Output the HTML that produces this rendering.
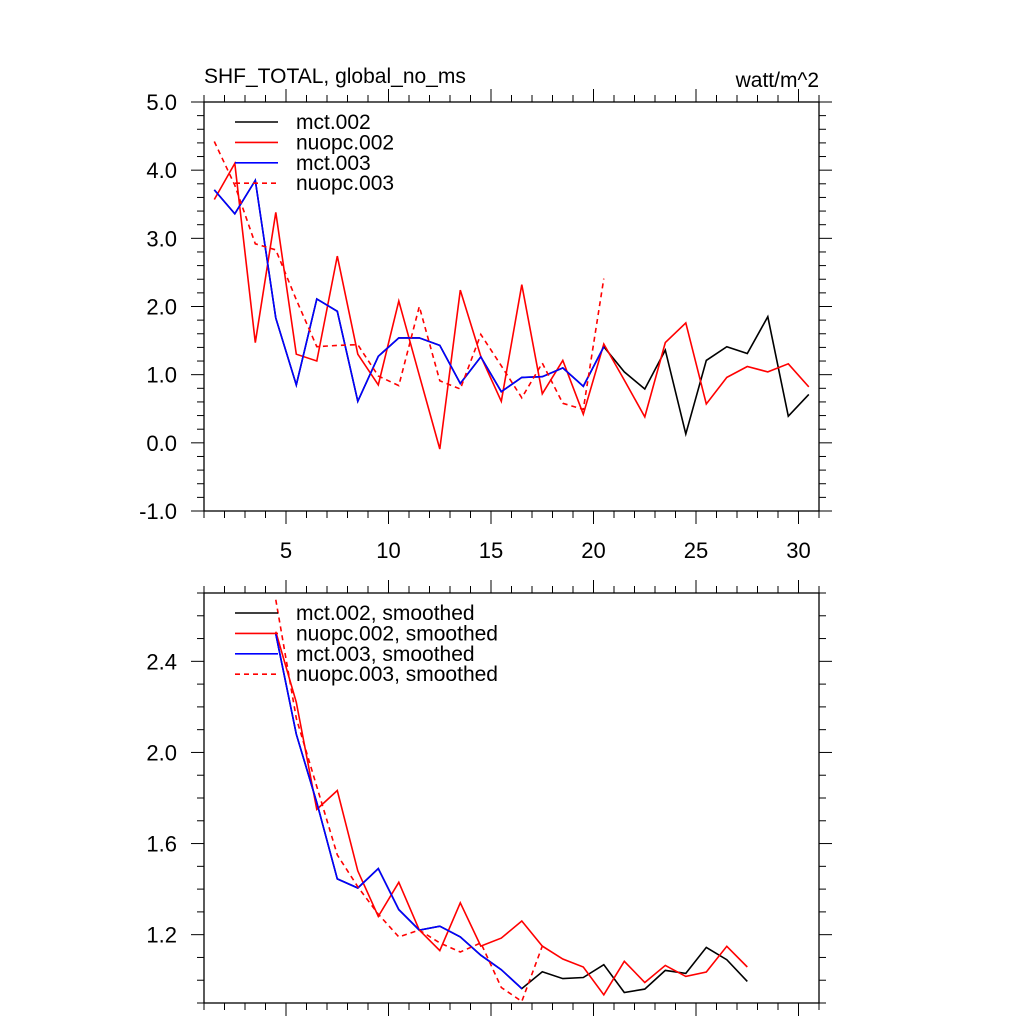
<!DOCTYPE html>
<html><head><meta charset="utf-8"><style>
html,body{margin:0;padding:0;background:#fff;}
svg{display:block;font-family:"Liberation Sans",Arial,sans-serif;}
</style></head><body>
<svg id="chart" width="1024" height="1024" viewBox="0 0 1024 1024"></svg>
<script>
const xsTop = [1.5,2.5,3.5,4.5,5.5,6.5,7.5,8.5,9.5,10.5,11.5,12.5,13.5,14.5,15.5,16.5,17.5,18.5,19.5,20.5,21.5,22.5,23.5,24.5,25.5,26.5,27.5,28.5,29.5,30.5];
const mct002 = [3.71,3.36,3.85,1.83,0.85,2.11,1.93,0.61,1.27,1.54,1.54,1.43,0.87,1.26,0.75,0.96,0.97,1.10,0.83,1.41,1.04,0.79,1.36,0.13,1.21,1.41,1.31,1.85,0.39,0.71];
const nuopc002 = [3.57,4.10,1.47,3.38,1.30,1.20,2.74,1.30,0.85,2.08,0.99,-0.09,2.24,1.27,0.61,2.32,0.72,1.21,0.42,1.45,0.92,0.38,1.47,1.76,0.57,0.96,1.12,1.04,1.16,0.82];
const mct003 = [3.71,3.36,3.85,1.83,0.85,2.11,1.93,0.61,1.27,1.54,1.54,1.43,0.87,1.26,0.75,0.96,0.97,1.10,0.83,1.41];
const nuopc003x = [1.5,2.5,3.5,4.5,5.5,6.5,7.5,8.5,9.5,10.5,11.5,12.5,13.5,14.5,15.5,16.5,17.5,18.5,19.5,20.5];
const nuopc003 = [4.42,3.78,2.92,2.83,2.10,1.41,1.43,1.44,0.98,0.84,2.00,0.91,0.79,1.59,1.13,0.66,1.17,0.58,0.49,2.41];

const xsSm = [4.5,5.5,6.5,7.5,8.5,9.5,10.5,11.5,12.5,13.5,14.5,15.5,16.5,17.5,18.5,19.5,20.5,21.5,22.5,23.5,24.5,25.5,26.5,27.5];
const mct002s = [2.52,2.08,1.78,1.445,1.405,1.49,1.31,1.22,1.237,1.19,1.11,1.046,0.963,1.037,1.007,1.012,1.068,0.946,0.961,1.043,1.03,1.144,1.09,0.995];
const nuopc002s = [2.53,2.22,1.75,1.833,1.48,1.28,1.43,1.22,1.13,1.34,1.15,1.185,1.26,1.15,1.093,1.058,0.936,1.083,0.99,1.065,1.017,1.036,1.149,1.058];
const mct003s = [2.52,2.08,1.78,1.445,1.405,1.49,1.31,1.22,1.237,1.19,1.11,1.046,0.963];
const nuopc003s = [2.67,2.15,1.85,1.55,1.41,1.29,1.19,1.22,1.164,1.124,1.164,0.968,0.907,1.15];

const topYTicks = [5.0,4.0,3.0,2.0,1.0,0.0,-1.0];
const topYLabels = ["5.0","4.0","3.0","2.0","1.0","0.0","-1.0"];
const botYTicks = [2.4,2.0,1.6,1.2];
const botYLabels = ["2.4","2.0","1.6","1.2"];
const xTicks = [5,10,15,20,25,30];
const xLabels = ["5","10","15","20","25","30"];

const NS = "http://www.w3.org/2000/svg";
const svgEl = document.getElementById('chart');
function mk(tag, attrs, parent){const e=document.createElementNS(NS,tag);for(const k in attrs)e.setAttribute(k,attrs[k]);(parent||svgEl).appendChild(e);return e;}

const L=204,R=819;
const xmin=1,xmax=31;
function sx(v){return L+(v-xmin)/(xmax-xmin)*(R-L);}

function panel(name,T,B,ymin,ymax,minorStep,yt,yl,showX){
  const g=mk('g',{});
  
  
  const sy=v=>B-(v-ymin)/(ymax-ymin)*(B-T);
  for(let v=xmin;v<=xmax;v++){
    const major=v%5===0;const len=major?13:7;
    mk('line',{x1:sx(v),x2:sx(v),y1:B,y2:B+len,stroke:'#000','stroke-width':1},g);
    mk('line',{x1:sx(v),x2:sx(v),y1:T,y2:T-len,stroke:'#000','stroke-width':1},g);
  }
  const n=Math.round((ymax-ymin)/minorStep);
  for(let i=0;i<=n;i++){
    const v=ymin+i*minorStep;
    const major=yt.some(t=>Math.abs(t-v)<1e-6);const len=major?13:7;
    mk('line',{x1:L,x2:L-len,y1:sy(v),y2:sy(v),stroke:'#000','stroke-width':1},g);
    mk('line',{x1:R,x2:R+len,y1:sy(v),y2:sy(v),stroke:'#000','stroke-width':1},g);
  }
  yt.forEach((v,i)=>{
    const t=mk('text',{x:177,y:sy(v)+8,'text-anchor':'end','font-size':22},g);
    t.textContent=yl[i];
    
    
  });
  if(showX){xTicks.forEach((v,i)=>{
    const t=mk('text',{x:sx(v),y:B+47,'text-anchor':'middle','font-size':22},g);
    t.textContent=xLabels[i];
    
    
  });}
  mk('rect',{x:L,y:T,width:R-L,height:B-T,fill:'none',stroke:'#000','stroke-width':1.3},g);
  return {g,sy};
}
function series(p,name,xs,ys,color,dash){
  const pts=xs.map((x,i)=>sx(x).toFixed(1)+','+p.sy(ys[i]).toFixed(1)).join(' ');
  const pl=mk('polyline',{points:pts,fill:'none',stroke:color,'stroke-width':1.6,'stroke-dasharray':dash||'none'},p.g);
  
  
}
function legend(g,items,y0){
  items.forEach((it,i)=>{
    const y=y0+i*20.4;
    mk('line',{x1:235,x2:278,y1:y,y2:y,stroke:it[1],'stroke-width':1.6,'stroke-dasharray':it[2]||'none'},g);
    const t=mk('text',{x:296,y:y+7,'font-size':21},g);
    t.textContent=it[0];
    
    
  });
}

const topPanel=panel('top-panel',102,511,-1,5,0.2,topYTicks,topYLabels,true);
series(topPanel,'mct002-line',xsTop,mct002,'#000');
series(topPanel,'nuopc002-line',xsTop,nuopc002,'#f00');
series(topPanel,'mct003-line',xsTop.slice(0,mct003.length),mct003,'#00f');
series(topPanel,'nuopc003-line',nuopc003x,nuopc003,'#f00','5,4');
legend(topPanel.g,[['mct.002','#000'],['nuopc.002','#f00'],['mct.003','#00f'],['nuopc.003','#f00','5,4']],122);

const botPanel=panel('bottom-panel',593,1003,0.9,2.7,0.1,botYTicks,botYLabels,false);
series(botPanel,'mct002-smoothed',xsSm,mct002s,'#000');
series(botPanel,'nuopc002-smoothed',xsSm,nuopc002s,'#f00');
series(botPanel,'mct003-smoothed',xsSm.slice(0,mct003s.length),mct003s,'#00f');
series(botPanel,'nuopc003-smoothed',xsSm.slice(0,nuopc003s.length),nuopc003s,'#f00','5,4');
legend(botPanel.g,[['mct.002, smoothed','#000'],['nuopc.002, smoothed','#f00'],['mct.003, smoothed','#00f'],['nuopc.003, smoothed','#f00','5,4']],613);

const title=mk('text',{x:204,y:83,'font-size':21});
title.textContent='SHF_TOTAL, global_no_ms';


const units=mk('text',{x:819,y:87,'font-size':21,'text-anchor':'end'});
units.textContent='watt/m^2';


</script>
</body></html>
